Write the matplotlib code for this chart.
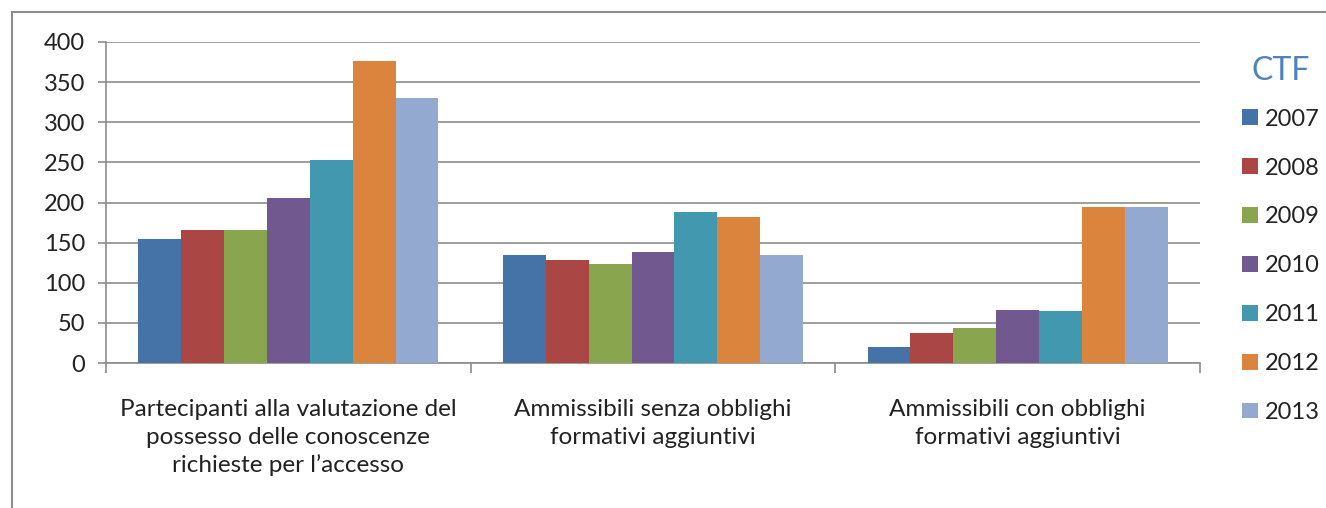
import numpy as np
import matplotlib.pyplot as plt
from matplotlib.patches import Rectangle

# Data
categories = [
    "Partecipanti alla valutazione del\npossesso delle conoscenze\nrichieste per l\u2019accesso",
    "Ammissibili senza obblighi\nformativi aggiuntivi",
    "Ammissibili con obblighi\nformativi aggiuntivi",
]
years = ["2007", "2008", "2009", "2010", "2011", "2012", "2013"]
v2007 = [155, 134, 20]
v2008 = [166, 128, 38]
v2009 = [166, 123, 43]
v2010 = [205, 138, 66]
v2011 = [253, 188, 65]
v2012 = [376, 182, 194]
v2013 = [330, 135, 194]
series = [v2007, v2008, v2009, v2010, v2011, v2012, v2013]
colors = ["#4572A7", "#AA4643", "#89A54E", "#71588F", "#4198AF", "#DB843D", "#93A9CF"]

plt.rcParams['font.family'] = ['Lato', 'DejaVu Sans']

fig = plt.figure(figsize=(13.26, 5.08), dpi=100)
ax = fig.add_axes([106 / 1326, 1 - 363 / 508, (1200 - 106) / 1326, (363 - 42) / 508])

# outer chart border (only top and left visible)
fig.patches.append(Rectangle((12 / 1326, -0.1), 1.2, 1 - 12 / 508 + 0.1,
                             transform=fig.transFigure, fill=False,
                             edgecolor="#8c8c8c", linewidth=1.5))

x = np.arange(len(categories))
w = 1 / 8.5
for i, (vals, c, yr) in enumerate(zip(series, colors, years)):
    ax.bar(x + (i - 3) * w, vals, width=w, color=c, label=yr, zorder=3)

ax.set_xlim(-0.5, 2.5)
ax.set_ylim(0, 400)
ax.set_yticks(np.arange(0, 401, 50))
ax.grid(axis='y', color="#8c8c8c", linewidth=1.2, zorder=0)

for s in ['top', 'right']:
    ax.spines[s].set_visible(False)
for s in ['left', 'bottom']:
    ax.spines[s].set_color("#8c8c8c")
    ax.spines[s].set_linewidth(1.2)

ax.set_xticks(x)
ax.set_xticklabels(categories, fontsize=17.5, color="#222222", linespacing=1.38)
ax.set_xticks([-0.5, 0.5, 1.5, 2.5], minor=True)
ax.tick_params(axis='x', which='major', length=0, pad=26)
ax.tick_params(axis='x', which='minor', length=7, color="#8c8c8c", width=1.2)
ax.tick_params(axis='y', length=6, color="#8c8c8c", width=1.2, labelsize=17,
               labelcolor="#222222", pad=9)

leg = ax.legend(loc='upper left', bbox_to_anchor=(1233 / 1326, 1 - 47 / 508),
                bbox_transform=fig.transFigure, frameon=False, fontsize=17,
                title="CTF", handlelength=0.65, handleheight=0.65,
                handletextpad=0.3, labelspacing=1.18, borderaxespad=0)
leg.get_title().set_color("#4F81BD")
leg.get_title().set_fontsize(23)
leg._legend_box.sep = 16
for t in leg.get_texts():
    t.set_color("#222222")

fig.savefig("out.png", dpi=100)
